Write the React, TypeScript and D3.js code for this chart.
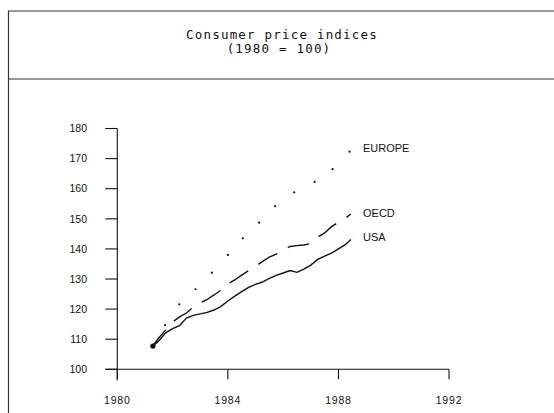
import React, { useRef, useEffect } from "react";
import * as d3 from "d3";

// quarterly readings, 1981 Q2 .. mid 1988
const quarters = [
    1981.25, 1981.5, 1981.75, 1982.0, 1982.25, 1982.5, 1982.75, 1983.0,
    1983.25, 1983.5, 1983.75, 1984.0, 1984.25, 1984.5, 1984.75, 1985.0,
    1985.25, 1985.5, 1985.75, 1986.0, 1986.25, 1986.5, 1986.75, 1987.0,
    1987.25, 1987.5, 1987.75, 1988.0, 1988.25, 1988.45,
];
const usa = [
    107.4, 109.4, 112.1, 113.5, 114.5, 117.0, 117.9, 118.4, 118.9, 119.7,
    120.9, 122.7, 124.3, 125.8, 127.2, 128.2, 129.0, 130.2, 131.2, 132.0,
    132.8, 132.2, 133.3, 134.6, 136.5, 137.6, 138.6, 140.0, 141.4, 143.1,
];
const oecd = [
    107.4, 110.4, 113.1, 115.7, 117.4, 118.7, 120.7, 122.0, 123.2, 124.7,
    126.3, 128.3, 129.7, 131.3, 132.8, 134.3, 135.8, 137.3, 138.3, 139.6,
    140.8, 141.1, 141.3, 141.8, 143.9, 145.3, 147.4, 148.9, 150.2, 151.6,
];
// europe is only plotted as sparse dots
const europeYears = [
    1981.29, 1981.73, 1982.24, 1982.83, 1983.42, 1984.0, 1984.54, 1985.13,
    1985.71, 1986.4, 1987.14, 1987.79, 1988.4,
];
const europe = [
    107.4, 114.7, 121.6, 126.6, 132.1, 138.0, 143.5, 148.7, 154.2, 158.8,
    162.3, 166.5, 172.3,
];
const yTicks = [100, 110, 120, 130, 140, 150, 160, 170, 180];
const xTicks = [1980, 1984, 1988, 1992];
const seriesLabels = [
    { name: "EUROPE", value: 173.5 },
    { name: "OECD", value: 152 },
    { name: "USA", value: 144 },
];

const width = 554;
const height = 413;
const ink = "#111";
const x = d3.scaleLinear().domain([1980, 1992]).range([117.3, 449]);
const y = d3.scaleLinear().domain([100, 180]).range([369.3, 128.5]);

function draw(svgEl: SVGSVGElement) {
    const svg = d3.select(svgEl);
    svg.selectAll("*").remove();

    // frame of the page
    const frame = svg.append("g").attr("stroke", "#333").attr("stroke-width", 1.2);
    frame.append("line").attr("x1", 8).attr("x2", width).attr("y1", 11).attr("y2", 11);
    frame.append("line").attr("x1", 8).attr("x2", width).attr("y1", 79).attr("y2", 79);
    frame.append("line").attr("x1", 8.5).attr("x2", 8.5).attr("y1", 11).attr("y2", height);

    const title = svg
        .append("g")
        .attr("font-family", "DejaVu Sans Mono, monospace")
        .attr("font-size", 12.5)
        .attr("letter-spacing", 1.2)
        .attr("fill", ink)
        .attr("text-anchor", "middle");
    title.append("text").attr("x", 282).attr("y", 39).text("Consumer price indices");
    title.append("text").attr("x", 279).attr("y", 53).text("(1980 = 100)");

    const axes = svg.append("g").attr("stroke", ink).attr("stroke-width", 1.1);
    // y axis
    axes.append("line")
        .attr("x1", x(1980)).attr("x2", x(1980))
        .attr("y1", y(180)).attr("y2", y(100) + 11);
    axes.selectAll(".ytick")
        .data(yTicks)
        .enter()
        .append("line")
        .attr("x1", x(1980) - 12).attr("x2", x(1980))
        .attr("y1", (d) => y(d)).attr("y2", (d) => y(d));
    // x axis
    axes.append("line")
        .attr("x1", x(1980) - 12).attr("x2", x(1992))
        .attr("y1", y(100)).attr("y2", y(100));
    axes.selectAll(".xtick")
        .data(xTicks)
        .enter()
        .append("line")
        .attr("x1", (d) => x(d)).attr("x2", (d) => x(d))
        .attr("y1", y(100)).attr("y2", y(100) + 10);

    const labels = svg
        .append("g")
        .attr("font-family", "Liberation Sans, Arial, sans-serif")
        .attr("fill", ink);
    labels.selectAll(".ylab")
        .data(yTicks)
        .enter()
        .append("text")
        .attr("x", 87)
        .attr("y", (d) => y(d))
        .attr("dy", "0.36em")
        .attr("font-size", 10.5)
        .attr("text-anchor", "end")
        .text((d) => d);
    labels.selectAll(".xlab")
        .data(xTicks)
        .enter()
        .append("text")
        .attr("x", (d) => x(d))
        .attr("y", 404)
        .attr("font-size", 10.5)
        .attr("letter-spacing", 0.8)
        .attr("text-anchor", "middle")
        .text((d) => d);
    labels.selectAll(".slab")
        .data(seriesLabels)
        .enter()
        .append("text")
        .attr("x", 363)
        .attr("y", (d) => y(d.value))
        .attr("dy", "0.36em")
        .attr("font-size", 11)
        .text((d) => d.name);

    const line = d3
        .line<number>()
        .x((_d, i) => x(quarters[i]))
        .y((d) => y(d));

    svg.append("path")
        .attr("d", line(usa))
        .attr("fill", "none")
        .attr("stroke", ink)
        .attr("stroke-width", 1.4);

    svg.append("path")
        .attr("d", line(oecd))
        .attr("fill", "none")
        .attr("stroke", ink)
        .attr("stroke-width", 1.4)
        .attr("stroke-dasharray", "22,12");

    svg.append("g")
        .selectAll("circle")
        .data(europe)
        .enter()
        .append("circle")
        .attr("cx", (_d, i) => x(europeYears[i]))
        .attr("cy", (d) => y(d))
        .attr("r", 1.1)
        .attr("fill", ink);

    // blob where the lines start
    svg.append("circle")
        .attr("cx", x(quarters[0]) + 1)
        .attr("cy", y(usa[0]) - 1)
        .attr("r", 2.6)
        .attr("fill", ink);
}

export default function App() {
    const ref = useRef<SVGSVGElement>(null);
    useEffect(() => {
        if (ref.current) draw(ref.current);
    }, []);
    return (
        <svg
            ref={ref}
            width={width}
            height={height}
            style={{ position: "absolute", left: 0, top: 0, background: "white" }}
        />
    );
}
